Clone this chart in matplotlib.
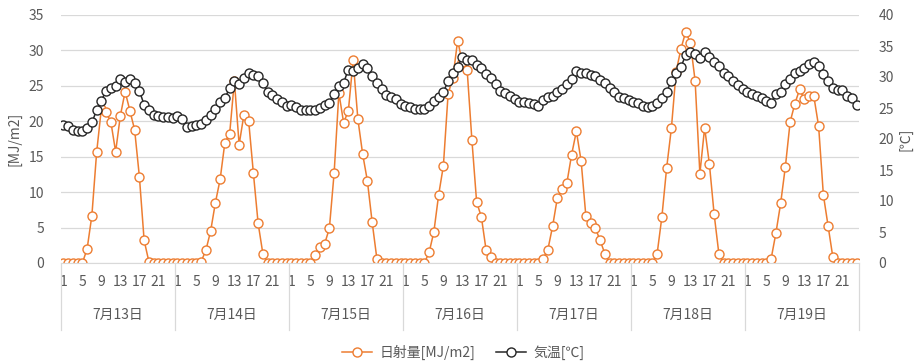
import numpy as np
import matplotlib
matplotlib.use("Agg")
from matplotlib import pyplot as plt
from matplotlib import transforms
from matplotlib.lines import Line2D

plt.rcParams['font.family'] = ['Noto Sans CJK JP', 'DejaVu Sans']

DAYS = ['7月13日', '7月14日', '7月15日', '7月16日', '7月17日', '7月18日', '7月19日']
HOUR_TICKS = [1, 5, 9, 13, 17, 21]

# hourly solar radiation [MJ/m2], one list per day
SOLAR_13 = [0, 0, 0, 0, 0, 2.0, 6.7, 15.6, 21.8, 21.3, 19.9, 15.7, 20.8, 24.2, 21.5, 18.8, 12.2, 3.2, 0.2, 0, 0, 0, 0, 0]
SOLAR_14 = [0, 0, 0, 0, 0, 0.2, 1.8, 4.5, 8.5, 11.8, 17.0, 18.2, 25.7, 16.7, 20.9, 20.1, 12.7, 5.6, 1.3, 0, 0, 0, 0, 0]
SOLAR_15 = [0, 0, 0, 0, 0, 1.1, 2.2, 2.7, 4.9, 12.7, 24.0, 19.8, 21.5, 28.6, 20.3, 15.4, 11.6, 5.8, 0.6, 0, 0, 0, 0, 0]
SOLAR_16 = [0, 0, 0, 0, 0, 1.5, 4.4, 9.6, 13.7, 23.9, 26.1, 31.4, 28.3, 27.3, 17.4, 8.6, 6.5, 1.8, 0.8, 0, 0, 0, 0, 0]
SOLAR_17 = [0, 0, 0, 0, 0, 0.6, 1.9, 5.2, 9.2, 10.4, 11.3, 15.3, 18.6, 14.4, 6.6, 5.6, 4.9, 3.2, 1.3, 0, 0, 0, 0, 0]
SOLAR_18 = [0, 0, 0, 0, 0, 1.3, 6.5, 13.4, 19.0, 27.0, 30.2, 32.6, 31.1, 25.7, 12.6, 19.1, 14.0, 6.9, 1.3, 0, 0, 0, 0, 0]
SOLAR_19 = [0, 0, 0, 0, 0, 0.6, 4.2, 8.4, 13.6, 19.9, 22.5, 24.5, 23.1, 23.5, 23.5, 19.3, 9.6, 5.2, 0.8, 0, 0, 0, 0, 0]

# hourly air temperature [C]
TEMP_13 = [22.3, 22.1, 21.5, 21.3, 21.3, 21.7, 22.7, 24.6, 26.2, 27.8, 28.3, 28.5, 29.7, 29.2, 29.7, 29.0, 27.8, 25.5, 24.6, 23.9, 23.7, 23.6, 23.5, 23.4]
TEMP_14 = [23.7, 23.2, 21.9, 22.1, 22.3, 22.5, 23.0, 23.8, 24.8, 25.9, 26.6, 28.2, 29.3, 28.9, 29.9, 30.7, 30.4, 30.2, 29.1, 27.6, 27.1, 26.5, 26.0, 25.3]
TEMP_15 = [25.5, 25.2, 24.7, 24.6, 24.6, 24.6, 25.0, 25.5, 25.8, 27.3, 28.5, 29.1, 31.2, 30.9, 31.5, 32.1, 31.5, 30.1, 29.0, 28.1, 27.1, 26.7, 26.5, 25.7]
TEMP_16 = [25.4, 25.1, 24.9, 24.9, 24.8, 25.3, 26.2, 26.7, 27.6, 29.3, 30.7, 31.6, 33.3, 32.7, 32.7, 32.0, 31.5, 30.5, 29.8, 28.9, 27.8, 27.4, 26.9, 26.4]
TEMP_17 = [26.0, 25.9, 25.8, 25.6, 25.4, 26.3, 26.7, 26.9, 27.6, 28.1, 28.8, 29.7, 30.9, 30.7, 30.6, 30.3, 30.2, 29.5, 29.1, 28.3, 27.6, 26.8, 26.6, 26.3]
TEMP_18 = [26.0, 25.8, 25.4, 25.2, 25.3, 25.8, 26.6, 27.6, 29.4, 30.7, 31.6, 33.5, 34.1, 33.7, 33.1, 34.0, 33.3, 32.4, 31.7, 30.7, 30.2, 29.4, 28.7, 28.0]
TEMP_19 = [27.6, 27.3, 26.9, 26.6, 26.2, 25.8, 27.3, 27.6, 28.8, 29.7, 30.7, 31.0, 31.5, 32.1, 32.5, 31.7, 30.5, 29.3, 28.3, 27.9, 27.9, 27.0, 26.6, 25.5]

solar = np.concatenate([SOLAR_13, SOLAR_14, SOLAR_15, SOLAR_16, SOLAR_17, SOLAR_18, SOLAR_19])
temp = np.concatenate([TEMP_13, TEMP_14, TEMP_15, TEMP_16, TEMP_17, TEMP_18, TEMP_19])
x = np.arange(len(solar))

ORANGE = '#ED7D31'
DARK = '#262626'
GREY = '#595959'
GRID = '#D9D9D9'

fig = plt.figure(figsize=(9.17, 3.64), dpi=100)
ax = fig.add_axes([61 / 917, 101 / 364, 798 / 917, 248 / 364])
ax2 = ax.twinx()

ax.plot(x, solar, color=ORANGE, lw=1.1, marker='o', ms=6.5, mfc='white',
        mec=ORANGE, mew=1.0, label='日射量[MJ/m2]')
ax2.plot(x, temp, color=DARK, lw=1.1, marker='o', ms=6.5, mfc='white',
         mec=DARK, mew=1.0, label='気温[℃]')

ax.set_xlim(-0.5, len(x) - 0.5)
ax.set_ylim(0, 35)
ax.set_yticks(np.arange(0, 36, 5))
ax2.set_ylim(0, 40)
ax2.set_yticks(np.arange(0, 41, 5))

ax.yaxis.grid(True, color=GRID, lw=0.9)
ax.set_axisbelow(True)
for a in (ax, ax2):
    for s in ('top', 'left', 'right'):
        a.spines[s].set_visible(False)
ax2.spines['bottom'].set_visible(False)
ax.spines['bottom'].set_color(GRID)

ticks = [d * 24 + h - 1 for d in range(len(DAYS)) for h in HOUR_TICKS]
ax.set_xticks(ticks)
ax.set_xticklabels([str(h) for d in range(len(DAYS)) for h in HOUR_TICKS])
ax.tick_params(axis='x', length=0, pad=9, labelsize=10, colors=GREY)
ax.tick_params(axis='y', length=0, pad=12, labelsize=10, colors=GREY)
ax2.tick_params(axis='y', length=0, pad=14, labelsize=10, colors=GREY)

ax.set_ylabel('[MJ/m2]', color=GREY, fontsize=10)
ax2.set_ylabel('[℃]', color=GREY, fontsize=10, rotation=90)
ax.yaxis.set_label_coords(-0.050, 0.5)
ax2.yaxis.set_label_coords(1.049, 0.5)

# day groups under the hour labels
trans = transforms.blended_transform_factory(ax.transData, ax.transAxes)
for d, name in enumerate(DAYS):
    ax.text(d * 24 + 11.5, -0.21, name, transform=trans, ha='center', va='center',
            fontsize=10, color=GREY)
for d in range(len(DAYS) + 1):
    ax.add_line(Line2D([d * 24 - 0.5, d * 24 - 0.5], [0, -0.27], transform=trans,
                       color=GRID, lw=0.9, clip_on=False))

h1, l1 = ax.get_legend_handles_labels()
h2, l2 = ax2.get_legend_handles_labels()
fig.legend(h1 + h2, l1 + l2, loc='center', bbox_to_anchor=(0.505, 0.033), ncol=2,
           frameon=False, fontsize=10, labelcolor=GREY, handlelength=2.2,
           columnspacing=1.5, handletextpad=0.5)

fig.savefig('out.png', dpi=100)
